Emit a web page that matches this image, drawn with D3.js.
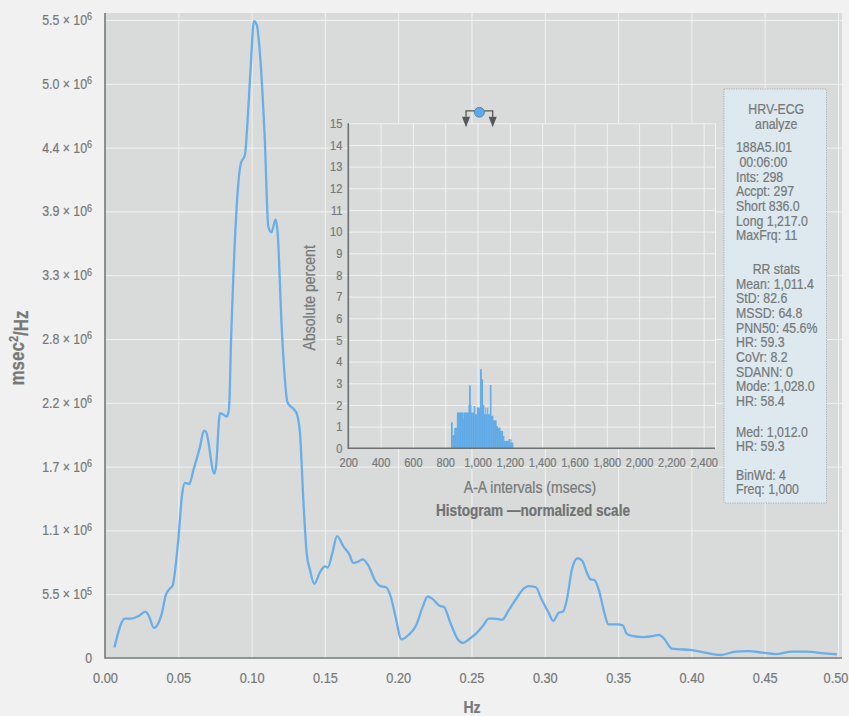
<!DOCTYPE html>
<html>
<head>
<meta charset="utf-8">
<script src="https://cdn.jsdelivr.net/npm/d3@7"></script>
<style>
  body { margin: 0; background: #f1f1f1; }
  svg { display: block; }
  text { font-family: "Liberation Sans", Arial, sans-serif; fill: #777a7a; stroke: #777a7a; stroke-width: 0.25px; }
</style>
</head>
<body>
<div id="chart"></div>
<script>
// ---- spectrum data (Hz, power in 10^6 msec²/Hz) ----
const freqHz = [0.0064, 0.0136, 0.018, 0.0227, 0.0277, 0.030, 0.0334, 0.0364, 0.0387, 0.0414,
  0.0443, 0.046, 0.050, 0.0527, 0.0546, 0.0575, 0.0603, 0.0648, 0.0675, 0.0689,
  0.0746, 0.0757, 0.0784, 0.0807, 0.083, 0.0846, 0.086, 0.0926, 0.0955, 0.097,
  0.0994, 0.1016, 0.1035, 0.1057, 0.109, 0.1114, 0.1135, 0.1164, 0.1178, 0.1205,
  0.1246, 0.1291, 0.1307, 0.133, 0.1353, 0.1376, 0.1398, 0.1428, 0.1467, 0.150,
  0.152, 0.155, 0.1583, 0.1627, 0.1664, 0.1694, 0.1726, 0.1758, 0.1795, 0.1842,
  0.1879, 0.1917, 0.1949, 0.1981, 0.2023, 0.2072, 0.2122, 0.2164, 0.2201, 0.2233,
  0.2283, 0.2312, 0.2357, 0.2407, 0.2444, 0.2481, 0.2531, 0.258, 0.2617, 0.2654,
  0.2709, 0.2753, 0.2815, 0.2857, 0.2889, 0.2939, 0.2976, 0.3026, 0.3058, 0.3095,
  0.3125, 0.315, 0.3186, 0.3224, 0.3254, 0.3286, 0.331, 0.334, 0.3372, 0.3404,
  0.3434, 0.3496, 0.3533, 0.3558, 0.3595, 0.3669, 0.3744, 0.378, 0.3818, 0.3867,
  0.3917, 0.3991, 0.409, 0.4201, 0.43, 0.4387, 0.4486, 0.4573, 0.4684, 0.4783,
  0.4907, 0.4993];
const powerM = [0.09, 0.34, 0.34, 0.36, 0.40, 0.36, 0.26, 0.30, 0.38, 0.54,
  0.60, 0.62, 1.02, 1.42, 1.51, 1.50, 1.62, 1.82, 1.96, 1.95,
  1.59, 1.65, 2.11, 2.10, 2.08, 2.15, 2.74, 4.26, 4.34, 4.58,
  5.10, 5.49, 5.46, 5.21, 4.47, 3.72, 3.67, 3.78, 3.66, 2.86,
  2.20, 2.14, 2.11, 1.94, 1.36, 0.90, 0.76, 0.64, 0.74, 0.79,
  0.78, 0.90, 1.05, 0.96, 0.90, 0.82, 0.83, 0.85, 0.80, 0.67,
  0.62, 0.61, 0.53, 0.36, 0.16, 0.20, 0.28, 0.43, 0.53, 0.51,
  0.45, 0.44, 0.30, 0.16, 0.13, 0.16, 0.21, 0.28, 0.34, 0.34,
  0.33, 0.41, 0.53, 0.60, 0.62, 0.61, 0.51, 0.39, 0.32, 0.39,
  0.40, 0.50, 0.77, 0.86, 0.84, 0.74, 0.68, 0.67, 0.57, 0.40,
  0.29, 0.29, 0.28, 0.21, 0.19, 0.18, 0.19, 0.20, 0.16, 0.08,
  0.075, 0.07, 0.046, 0.026, 0.055, 0.06, 0.046, 0.034, 0.055, 0.055,
  0.04, 0.032];

const xTickValues = [0, 0.05, 0.10, 0.15, 0.20, 0.25, 0.30, 0.35, 0.40, 0.45, 0.50];
const yTickValues = [0, 0.55, 1.1, 1.65, 2.2, 2.75, 3.3, 3.85, 4.4, 4.95, 5.5];
const yTickMantissa = ["0", "5.5", "1.1", "1.7", "2.2", "2.8", "3.3", "3.9", "4.4", "5.0", "5.5"];
const yTickExponent = ["", "5", "6", "6", "6", "6", "6", "6", "6", "6", "6"];

// ---- histogram data (A-A intervals, 4 msec bins, percent) ----
const histStart = 836;
const histBinWidth = 4;
const histPct = [1.2, 1.2, 0.6, 0.6, 0.6, 0.95, 0.95, 0.95, 0.95,
  1.65, 1.65, 1.65, 1.65, 1.65, 1.65, 1.65, 1.65, 1.65, 1.65, 1.35, 1.65, 1.65, 1.65, 1.65, 1.65, 1.65, 1.65,
  2.0, 2.9, 2.9, 2.0,
  1.65, 1.65, 1.65, 1.65, 1.95, 1.95, 1.57, 1.57, 1.57, 1.88, 1.88, 1.88, 1.88, 1.7,
  3.65, 3.65, 3.18, 3.18, 2.0, 2.0,
  1.57, 1.57, 1.88, 1.57, 1.57, 1.88, 1.57, 1.57, 1.57,
  2.92, 2.92, 1.5, 1.5, 1.5, 1.29, 1.29, 1.29, 1.29, 1.29, 1.03, 1.03,
  0.95, 0.95, 0.95, 0.95, 0.8, 0.8, 0.8, 0.8, 0.57, 0.57,
  0.34, 0.34, 0.34, 0.34, 0.34, 0.34, 0.34, 0.42, 0.42, 0.26, 0.42, 0.26, 0.26, 0.26];
const histXTicks = [200, 400, 600, 800, 1000, 1200, 1400, 1600, 1800, 2000, 2200, 2400];
const histYTicks = d3.range(0, 16);
const rrMean = 1011.4;
const rrStd = 82.6;

// ---- stats panel text ----
const statsTitle = ["HRV-ECG", "analyze"];
const statsGroups = [
  ["188A5.I01", " 00:06:00", "Ints: 298", "Accpt: 297", "Short 836.0", "Long 1,217.0", "MaxFrq: 11"],
  ["RR stats*", "Mean: 1,011.4", "StD: 82.6", "MSSD: 64.8", "PNN50: 45.6%", "HR: 59.3", "CoVr: 8.2",
   "SDANN: 0", "Mode: 1,028.0", "HR: 58.4"],
  ["Med: 1,012.0", "HR: 59.3"],
  ["BinWd: 4", "Freq: 1,000"]
];

const SX = 0.85; // the original uses a condensed face
const width = 849, height = 716;
const svg = d3.select("#chart").append("svg")
  .attr("width", width)
  .attr("height", height);

svg.append("rect").attr("width", width).attr("height", height).attr("fill", "#f1f1f1");

// text helper: places a horizontally squeezed label
function label(parent, x, y, str, size, opts = {}) {
  return parent.append("text")
    .attr("transform", `translate(${x},${y})${opts.rotate ? " rotate(" + opts.rotate + ")" : ""} scale(${SX},1)`)
    .attr("text-anchor", opts.anchor || "start")
    .style("font-size", size + "px")
    .style("font-weight", opts.bold ? "bold" : null)
    .attr("xml:space", "preserve")
    .text(str);
}

// ---- main chart ----
const x = d3.scaleLinear().domain([0, 0.5]).range([105, 838]);
const y = d3.scaleLinear().domain([0, 5.5]).range([658, 20]);
const plotTop = 13, plotRight = 842;

svg.append("rect")
  .attr("x", x(0)).attr("y", plotTop)
  .attr("width", plotRight - x(0)).attr("height", y(0) - plotTop)
  .attr("fill", "#d9dbdb");

svg.append("g")
  .attr("transform", `translate(0,${y(0)})`)
  .call(d3.axisBottom(x).tickValues(xTickValues.slice(1)).tickSize(-(y(0) - plotTop)).tickFormat(""))
  .call(g => g.select(".domain").remove())
  .call(g => g.selectAll("line").attr("stroke", "#f0f1f1").attr("stroke-width", 1));

svg.append("g")
  .attr("transform", `translate(${x(0)},0)`)
  .call(d3.axisLeft(y).tickValues(yTickValues.slice(1)).tickSize(-(plotRight - x(0))).tickFormat(""))
  .call(g => g.select(".domain").remove())
  .call(g => g.selectAll("line").attr("stroke", "#f0f1f1").attr("stroke-width", 1));

// x tick labels
svg.append("g")
  .attr("transform", `translate(0,${y(0)})`)
  .call(d3.axisBottom(x).tickValues(xTickValues).tickSize(0).tickPadding(14).tickFormat(d3.format(".2f")))
  .call(g => g.select(".domain").remove())
  .call(g => g.selectAll("text").style("font-size", "15px")
    .attr("transform", `scale(${SX},1)`))
  .call(g => g.selectAll("text").filter(d => d === 0.5).attr("dx", "-3px"));

// y tick labels with superscript exponents
yTickValues.forEach((d, i) => {
  const t = label(svg, x(0) - 13, y(d), "", 14.5, { anchor: "end" }).attr("dy", "0.35em");
  if (!yTickExponent[i]) { t.text(yTickMantissa[i]); return; }
  t.append("tspan").text(yTickMantissa[i] + " \u00d7 10");
  t.append("tspan").attr("dy", "-0.45em").style("font-size", "10.5px").text(yTickExponent[i]);
});

// axis lines
svg.append("path")
  .attr("d", `M${x(0)},${plotTop}V${y(0)}H${plotRight}`)
  .attr("fill", "none").attr("stroke", "#767979").attr("stroke-width", 1.6);

// spectrum line
const line = d3.line()
  .x((d, i) => x(freqHz[i]))
  .y(d => y(d))
  .curve(d3.curveMonotoneX);

svg.append("path")
  .datum(powerM)
  .attr("d", line)
  .attr("fill", "none")
  .attr("stroke", "#6aaee8")
  .attr("stroke-width", 2.3)
  .attr("stroke-linejoin", "round");

// axis titles
const yTitle = label(svg, 24, 348, "", 20, { rotate: -90, anchor: "middle", bold: true });
yTitle.append("tspan").text("msec");
yTitle.append("tspan").attr("dy", "-0.5em").style("font-size", "13px").text("2");
yTitle.append("tspan").attr("dy", "0.5em").text("/Hz");

label(svg, 472, 713, "Hz", 16.5, { anchor: "middle", bold: true });

// ---- inset histogram ----
const hx = d3.scaleLinear().domain([200, 2470]).range([348.3, 715]);
const hy = d3.scaleLinear().domain([0, 15]).range([448.3, 123.3]);
const inset = svg.append("g");

inset.append("rect")
  .attr("x", hx(200)).attr("y", hy(15))
  .attr("width", hx(2470) - hx(200)).attr("height", hy(0) - hy(15))
  .attr("fill", "#d9dbdb");

inset.append("g")
  .attr("transform", `translate(0,${hy(0)})`)
  .call(d3.axisBottom(hx).tickValues(histXTicks.slice(1).concat([2470])).tickSize(-(hy(0) - hy(15))).tickFormat(""))
  .call(g => g.select(".domain").remove())
  .call(g => g.selectAll("line").attr("stroke", "#f0f1f1").attr("stroke-width", 1));

inset.append("g")
  .attr("transform", `translate(${hx(200)},0)`)
  .call(d3.axisLeft(hy).tickValues(histYTicks.slice(1)).tickSize(-(hx(2470) - hx(200))).tickFormat(""))
  .call(g => g.select(".domain").remove())
  .call(g => g.selectAll("line").attr("stroke", "#f0f1f1").attr("stroke-width", 1));

const barW = hx(histStart + histBinWidth) - hx(histStart);
inset.append("g").selectAll("rect")
  .data(histPct)
  .join("rect")
  .attr("x", (d, i) => hx(histStart + i * histBinWidth))
  .attr("y", d => hy(d))
  .attr("width", barW + 0.35)
  .attr("height", d => hy(0) - hy(d))
  .attr("fill", "#5ea9e8");

inset.append("path")
  .attr("d", `M${hx(200)},${hy(15)}V${hy(0)}H${hx(2470)}`)
  .attr("fill", "none").attr("stroke", "#6d7171").attr("stroke-width", 1.6);

inset.append("g")
  .attr("transform", `translate(${hx(200)},0)`)
  .call(d3.axisLeft(hy).tickValues(histYTicks).tickSize(0).tickPadding(7))
  .call(g => g.select(".domain").remove())
  .call(g => g.selectAll("text").style("font-size", "13px")
    .attr("transform", `scale(${SX},1)`));

inset.append("g")
  .attr("transform", `translate(0,${hy(0)})`)
  .call(d3.axisBottom(hx).tickValues(histXTicks).tickSize(0).tickPadding(9).tickFormat(d3.format(",")))
  .call(g => g.select(".domain").remove())
  .call(g => g.selectAll("text").style("font-size", "13px")
    .attr("transform", `scale(${SX},1)`));

label(inset, hx(200) - 33, (hy(0) + hy(15)) / 2 + 12, "Absolute percent", 16.5, { rotate: -90, anchor: "middle" });
label(inset, 530, 493, "A-A intervals (msecs)", 16.5, { anchor: "middle" });
label(inset, 533, 516, "Histogram \u2014normalized scale", 16, { anchor: "middle", bold: true })
  .style("fill", "#6f7272");

// mean / SD handle
const hTop = hy(15) - 12.5;
const handle = inset.append("g");
handle.append("path")
  .attr("d", `M${hx(rrMean - rrStd)},${hTop + 6}V${hTop}H${hx(rrMean + rrStd)}V${hTop + 6}`)
  .attr("fill", "none").attr("stroke", "#555959").attr("stroke-width", 1.3);
handle.selectAll("path.arrow")
  .data([rrMean - rrStd, rrMean + rrStd])
  .join("path")
  .attr("class", "arrow")
  .attr("d", d => `M${hx(d) - 4},${hTop + 6}L${hx(d) + 4},${hTop + 6}L${hx(d)},${hTop + 16.5}Z`)
  .attr("fill", "#555959");
handle.append("circle")
  .attr("cx", hx(rrMean)).attr("cy", hTop + 1.5).attr("r", 5)
  .attr("fill", "#5ea9e8").attr("stroke", "#4a7fa8").attr("stroke-width", 0.8);

// ---- stats panel ----
const box = { x: 724, y: 89, w: 102.5, h: 414 };
svg.append("rect")
  .attr("x", box.x).attr("y", box.y).attr("width", box.w).attr("height", box.h)
  .attr("fill", "#dde9ef")
  .attr("stroke", "#9ea4a6").attr("stroke-width", 0.8).attr("stroke-dasharray", "1.2,1.2");

const step = 14.65;
const boxText = svg.append("g");
statsTitle.forEach((t, i) => {
  label(boxText, box.x + box.w / 2 + 1, box.y + 25 + i * step, t, 14.5, { anchor: "middle" });
});
let ly = box.y + 25 + step * 2.62;
statsGroups.forEach((grp, gi) => {
  grp.forEach(t => {
    const centered = t.endsWith("*");
    label(boxText, centered ? box.x + box.w / 2 + 1 : box.x + 12, ly,
      centered ? t.slice(0, -1) : t, 14.5, { anchor: centered ? "middle" : "start" });
    ly += step;
  });
  ly += step * ([1.3, 1.1, 0.95][gi] || 0);
});
</script>
</body>
</html>
